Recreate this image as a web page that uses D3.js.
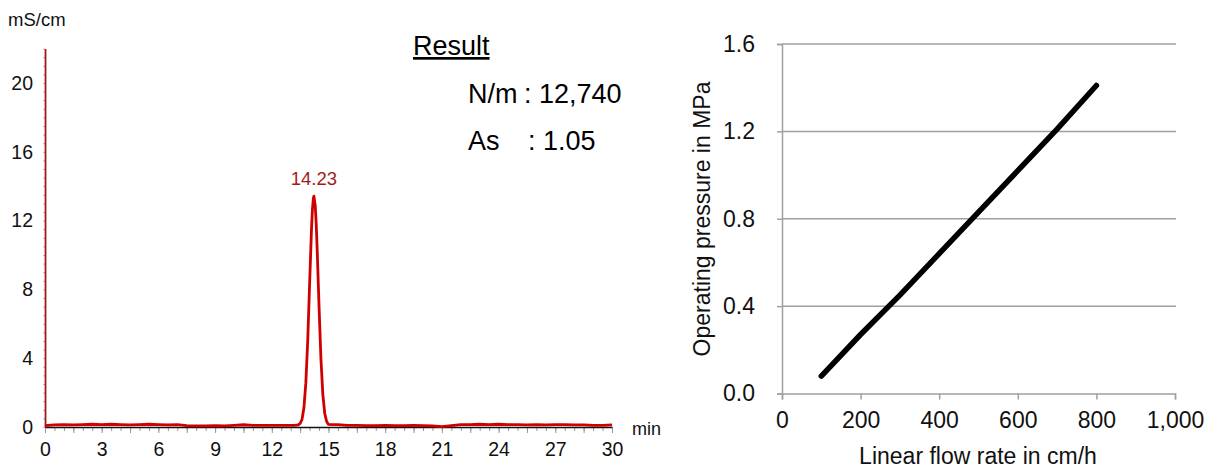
<!DOCTYPE html>
<html>
<head>
<meta charset="utf-8">
<script src="https://cdn.jsdelivr.net/npm/d3@7"></script>
<style>
  body { margin: 0; background: #fff; }
  text { font-family: "Liberation Sans", Arial, sans-serif; }
</style>
</head>
<body>
<div id="chart"></div>
<script>
// chromatogram (left) - retention time in min, conductivity in mS/cm
var chromTime = [0, 0.5, 1, 1.5, 2, 2.5, 3, 3.5, 4, 4.5, 5, 5.5, 6, 6.5, 7, 7.5, 8, 8.5, 9, 9.5,
  10, 10.5, 11, 11.5, 12, 12.5, 13, 13.2, 13.4, 13.5, 13.6, 13.7, 13.8, 13.9, 14.0, 14.1, 14.15,
  14.2, 14.23, 14.3, 14.35, 14.4, 14.5, 14.6, 14.7, 14.8, 14.9, 15.0, 15.2, 15.5, 16, 16.5, 17,
  17.5, 18, 18.5, 19, 19.5, 20, 20.5, 21, 21.5, 22, 22.5, 23, 23.5, 24, 24.5, 25, 25.5, 26, 26.5,
  27, 27.5, 28, 28.5, 29, 29.5, 30];
var chromSignal = [0.08, 0.12, 0.14, 0.12, 0.14, 0.16, 0.14, 0.16, 0.14, 0.12, 0.14, 0.16, 0.14, 0.12, 0.14, 0.08, 0.06, 0.06, 0.08, 0.06,
  0.1, 0.13, 0.1, 0.1, 0.1, 0.1, 0.09, 0.1, 0.13, 0.2, 0.45, 1.12, 2.55, 5.0, 8.3, 11.5, 12.65,
  13.3, 13.42, 12.85, 11.8, 10.35, 7.0, 3.95, 1.9, 0.8, 0.32, 0.15, 0.14, 0.14, 0.1, 0.1, 0.08,
  0.08, 0.1, 0.08, 0.08, 0.1, 0.08, 0.06, 0.02, 0.08, 0.14, 0.14, 0.16, 0.14, 0.16, 0.14, 0.14, 0.12, 0.14, 0.12,
  0.14, 0.14, 0.12, 0.12, 0.1, 0.1, 0.12];
var chromTicksX = [0, 3, 6, 9, 12, 15, 18, 21, 24, 27, 30];
var chromTicksY = [0, 4, 8, 12, 16, 20];
var peakTime = 14.23;
var peakLabel = '14.23';
var resultLines = [['N/m', ': 12,740'], ['As', ': 1.05']];

// pressure curve (right)
var flowRate = [100, 200, 300, 400, 500, 600, 700, 800];
var pressure = [0.08, 0.27, 0.45, 0.64, 0.83, 1.02, 1.21, 1.41];
var flowTicks = [0, 200, 400, 600, 800, 1000];
var pressureTicks = [0, 0.4, 0.8, 1.2, 1.6];

var svg = d3.select('#chart').append('svg')
  .attr('width', 1209)
  .attr('height', 470);

// ---------- left chart ----------
var xL = d3.scaleLinear().domain([0, 30]).range([45, 612]);
var yL = d3.scaleLinear().domain([0, 22]).range([427, 48.6]);

// minor ticks
svg.append('g')
  .attr('transform', 'translate(0,427)')
  .call(d3.axisBottom(xL).tickValues(d3.range(0, 30.01, 0.5)).tickSize(4).tickFormat(''))
  .call(function(g) { g.select('.domain').remove(); g.selectAll('line').attr('stroke', '#999'); });
svg.append('g')
  .attr('transform', 'translate(0,427)')
  .call(d3.axisBottom(xL).tickValues(d3.range(0, 30.01, 1.5)).tickSize(6).tickFormat(''))
  .call(function(g) { g.select('.domain').remove(); g.selectAll('line').attr('stroke', '#999'); });
svg.append('g')
  .attr('transform', 'translate(45,0)')
  .call(d3.axisLeft(yL).tickValues(d3.range(0, 22.01, 0.5)).tickSize(2).tickFormat(''))
  .call(function(g) { g.select('.domain').remove(); g.selectAll('line').attr('stroke', '#bbb'); });

// labelled axes
var xAxisL = svg.append('g')
  .attr('transform', 'translate(0,427)')
  .call(d3.axisBottom(xL).tickValues(chromTicksX).tickSize(0).tickPadding(15));
xAxisL.select('.domain').attr('stroke', '#111').attr('stroke-width', 1.5);
xAxisL.selectAll('text').attr('font-size', 19.5).attr('fill', '#111')
  .attr('font-family', '"Liberation Sans", Arial, sans-serif');

var yAxisL = svg.append('g')
  .attr('transform', 'translate(45,0)')
  .call(d3.axisLeft(yL).tickValues(chromTicksY).tickSize(0).tickPadding(12));
yAxisL.select('.domain').attr('stroke', '#9e1a1a').attr('stroke-width', 1.8);
yAxisL.selectAll('text').attr('font-size', 19.5).attr('fill', '#111')
  .attr('font-family', '"Liberation Sans", Arial, sans-serif');

var chromLine = d3.line()
  .x(function(d, i) { return xL(chromTime[i]); })
  .y(function(d) { return yL(d); });

svg.append('path')
  .datum(chromSignal)
  .attr('d', chromLine)
  .attr('fill', 'none')
  .attr('stroke', '#d00000')
  .attr('stroke-width', 2.8)
  .attr('stroke-linejoin', 'round');

svg.append('text')
  .attr('x', xL(peakTime))
  .attr('y', 185)
  .attr('text-anchor', 'middle')
  .attr('font-size', 18.5)
  .attr('fill', '#a01c1c')
  .text(peakLabel);

svg.append('text').attr('x', 8).attr('y', 26).attr('font-size', 18.5).attr('fill', '#111').text('mS/cm');
svg.append('text').attr('x', 632).attr('y', 435).attr('font-size', 18).attr('fill', '#111').text('min');

svg.append('text')
  .attr('x', 413).attr('y', 55)
  .attr('font-size', 27)
  .style('text-decoration', 'underline')
  .text('Result');

resultLines.forEach(function(r, i) {
  var t = svg.append('text').attr('y', 103 + i * 47).attr('font-size', 27);
  t.append('tspan').attr('x', 468).text(r[0]);
  t.append('tspan').attr('x', i == 0 ? 524 : 528).text(r[1]);
});

// ---------- right chart ----------
var xR = d3.scaleLinear().domain([0, 1000]).range([782, 1175]);
var yR = d3.scaleLinear().domain([0, 1.6]).range([393.5, 44]);

svg.append('g')
  .selectAll('line')
  .data(pressureTicks.slice(1))
  .enter()
  .append('line')
  .attr('x1', 782).attr('x2', 1176)
  .attr('y1', function(d) { return yR(d); })
  .attr('y2', function(d) { return yR(d); })
  .attr('stroke', '#a0a0a0')
  .attr('stroke-width', 1.5);

var xAxisR = svg.append('g')
  .attr('transform', 'translate(0,393.5)')
  .call(d3.axisBottom(xR).tickValues(flowTicks).tickSize(6).tickPadding(12)
    .tickFormat(d3.format(',')));
xAxisR.selectAll('line, .domain').attr('stroke', '#a0a0a0').attr('stroke-width', 1.5);
xAxisR.selectAll('text').attr('font-size', 23).attr('fill', '#111')
  .attr('font-family', '"Liberation Sans", Arial, sans-serif');

var yAxisR = svg.append('g')
  .attr('transform', 'translate(782,0)')
  .call(d3.axisLeft(yR).tickValues(pressureTicks).tickSize(5).tickPadding(22)
    .tickFormat(d3.format('.1f')));
yAxisR.selectAll('line, .domain').attr('stroke', '#a0a0a0').attr('stroke-width', 1.5);
yAxisR.selectAll('text').attr('font-size', 23).attr('fill', '#111')
  .attr('font-family', '"Liberation Sans", Arial, sans-serif');

svg.append('path')
  .datum(pressure)
  .attr('d', d3.line()
    .x(function(d, i) { return xR(flowRate[i]); })
    .y(function(d) { return yR(d); }))
  .attr('fill', 'none')
  .attr('stroke', '#000')
  .attr('stroke-width', 5.5)
  .attr('stroke-linecap', 'round');

svg.append('text')
  .attr('x', 978).attr('y', 464)
  .attr('text-anchor', 'middle')
  .attr('font-size', 23)
  .attr('fill', '#111')
  .text('Linear flow rate in cm/h');

svg.append('text')
  .attr('transform', 'translate(710,219) rotate(-90)')
  .attr('text-anchor', 'middle')
  .attr('font-size', 23)
  .attr('fill', '#111')
  .text('Operating pressure in MPa');
</script>
</body>
</html>
